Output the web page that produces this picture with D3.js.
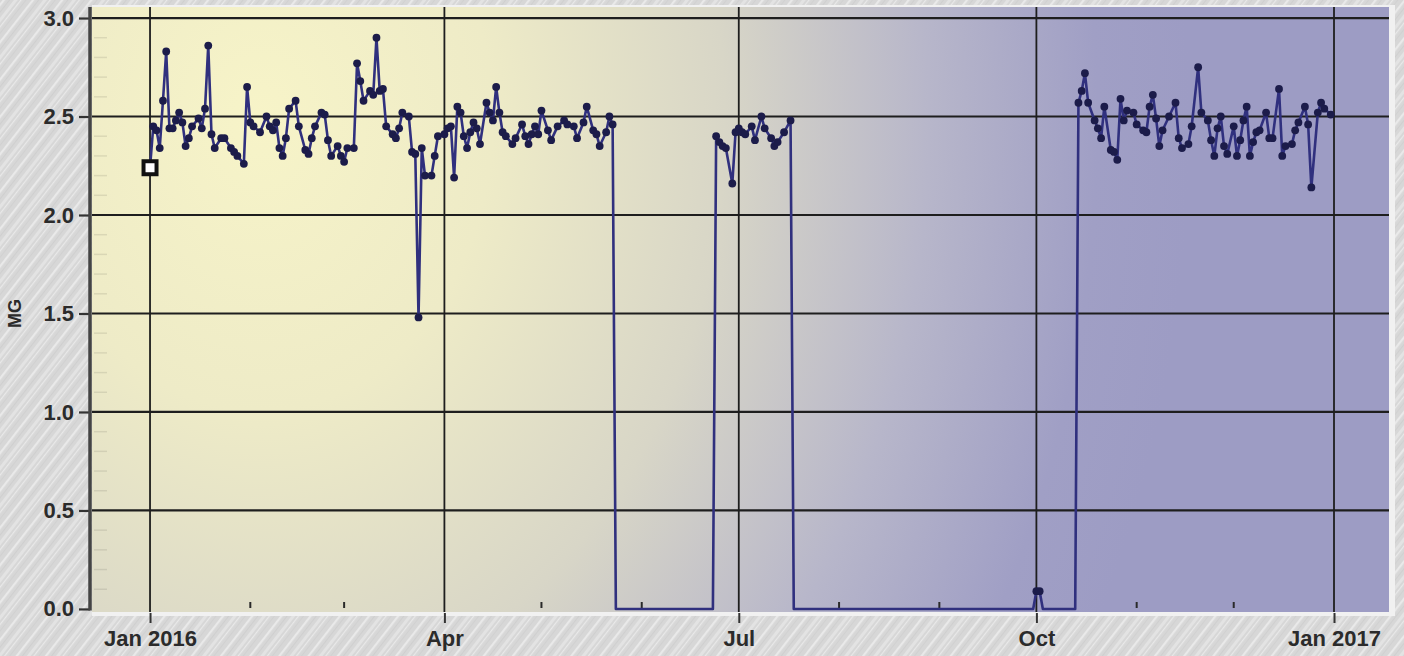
<!DOCTYPE html>
<html>
<head>
<meta charset="utf-8">
<script src="https://cdn.jsdelivr.net/npm/d3@7/dist/d3.min.js"></script>
<style>
  html, body { margin: 0; padding: 0; background: #d8d8d8; }
  svg { display: block; }
  text { font-family: "Liberation Sans", Arial, sans-serif; font-weight: bold; fill: #2b2b2b; }
</style>
</head>
<body>
<svg id="chart" width="1404" height="656"></svg>
<script>
// Daily MG readings, days counted from 1 Jan 2016. A value of 0 marks days with no reading.
const readingDay = [
  0, 1, 2, 3, 4, 5, 6, 7, 8, 9, 10, 11, 12, 13, 15, 16, 17, 18, 19, 20,
  22, 23, 25, 26, 27, 29, 30, 31, 32, 34, 36, 37, 38, 39, 40, 41, 42, 43, 45, 46,
  48, 49, 50, 51, 53, 54, 55, 56, 58, 59, 60, 61, 63, 64, 65, 66, 68, 69, 70, 71,
  72, 73, 75, 76, 77, 78, 80, 81, 82, 83, 84, 85, 87, 88, 89, 91, 92, 93, 94, 95,
  96, 97, 98, 99, 100, 101, 102, 104, 105, 106, 107, 108, 109, 110, 112, 113, 115, 116, 117, 118,
  119, 120, 121, 123, 124, 126, 128, 129, 131, 132, 134, 135, 137, 138, 139, 141, 142, 143,
  144, 174,
  175, 176, 177, 178, 180, 181, 182, 183, 184, 186, 187, 189, 190, 192, 193, 194, 196, 198,
  199, 273, 274, 275, 276, 286,
  287, 288, 289, 290, 292, 293, 294, 295, 297, 298, 299, 300, 301, 302, 304, 305, 307, 308, 309, 310,
  311, 312, 313, 315, 317, 318, 319, 321, 322, 324, 325, 327, 328, 329, 330, 331, 332, 333, 335, 336,
  337, 338, 339, 340, 341, 342, 343, 345, 346, 347, 349, 350, 351, 353, 354, 355, 357, 358, 359, 361,
  362, 363, 365
];
const readingValue = [
  2.24, 2.45, 2.43, 2.34, 2.58, 2.83, 2.44, 2.44, 2.48, 2.52, 2.47, 2.35, 2.39, 2.45, 2.49, 2.44, 2.54, 2.86, 2.41, 2.34,
  2.39, 2.39, 2.34, 2.32, 2.30, 2.26, 2.65, 2.47, 2.45, 2.42, 2.50, 2.45, 2.43, 2.47, 2.34, 2.30, 2.39, 2.54, 2.58, 2.45,
  2.33, 2.31, 2.39, 2.45, 2.52, 2.51, 2.38, 2.30, 2.35, 2.30, 2.27, 2.34, 2.34, 2.77, 2.68, 2.58, 2.63, 2.61, 2.90, 2.63,
  2.64, 2.45, 2.41, 2.39, 2.44, 2.52, 2.50, 2.32, 2.31, 1.48, 2.34, 2.20, 2.20, 2.30, 2.40, 2.41, 2.44, 2.45, 2.19, 2.55,
  2.52, 2.40, 2.34, 2.42, 2.47, 2.44, 2.36, 2.57, 2.52, 2.48, 2.65, 2.52, 2.42, 2.40, 2.36, 2.39, 2.46, 2.40, 2.36, 2.41,
  2.45, 2.41, 2.53, 2.43, 2.38, 2.45, 2.48, 2.46, 2.45, 2.39, 2.47, 2.55, 2.43, 2.41, 2.35, 2.42, 2.50, 2.46,
  0, 0,
  2.40, 2.37, 2.35, 2.34, 2.16, 2.42, 2.44, 2.42, 2.41, 2.45, 2.38, 2.50, 2.44, 2.39, 2.35, 2.37, 2.42, 2.48,
  0, 0, 0.09, 0.09, 0, 0,
  2.57, 2.63, 2.72, 2.57, 2.48, 2.44, 2.39, 2.55, 2.33, 2.32, 2.28, 2.59, 2.48, 2.53, 2.52, 2.46, 2.43, 2.42, 2.55, 2.61,
  2.49, 2.35, 2.43, 2.50, 2.57, 2.39, 2.34, 2.36, 2.45, 2.75, 2.52, 2.48, 2.38, 2.30, 2.44, 2.50, 2.35, 2.31, 2.45, 2.30,
  2.38, 2.48, 2.55, 2.30, 2.37, 2.42, 2.43, 2.52, 2.39, 2.39, 2.64, 2.30, 2.35, 2.36, 2.43, 2.47, 2.55, 2.46, 2.14, 2.52,
  2.57, 2.54, 2.51
];
const yTickValues = [0, 0.5, 1.0, 1.5, 2.0, 2.5, 3.0];
const yAxisTitle = "MG";
const seriesStart = Date.UTC(2016, 0, 1);
const dayMs = 86400000;

const svg = d3.select("#chart");
const W = 1404, H = 656;
const plot = { left: 92, right: 1389, top: 7, bottom: 612 };

const x = d3.scaleUtc()
  .domain([new Date(Date.UTC(2015, 11, 14)), new Date(Date.UTC(2017, 0, 18))])
  .range([91.8, 1389]);
const y = d3.scaleLinear().domain([-0.014, 3.056]).range([611.7, 7]);

const data = readingDay.map((d, i) => ({ date: new Date(seriesStart + d * dayMs), value: readingValue[i] }));

const defs = svg.append("defs");

// brushed grey backdrop
const pat = defs.append("pattern")
  .attr("id", "brushed").attr("patternUnits", "userSpaceOnUse")
  .attr("width", 23).attr("height", 23)
  .attr("patternTransform", "rotate(-52)");
pat.append("rect").attr("width", 23).attr("height", 23).attr("fill", "#d7d7d7");
[[2, 2.2, "#ececec", 0.9], [7, 1, "#c9c9c9", 0.6], [11, 3, "#e6e6e6", 0.8], [16, 1.2, "#f2f2f2", 0.7], [20, 1, "#cccccc", 0.5]]
  .forEach(([p, w, c, o]) => pat.append("rect").attr("x", 0).attr("y", p).attr("width", 23).attr("height", w)
    .attr("fill", c).attr("opacity", o));

// plot panel shading: warm cream on the left fading into lavender on the right
const grad = defs.append("radialGradient")
  .attr("id", "panel").attr("gradientUnits", "userSpaceOnUse")
  .attr("cx", 260).attr("cy", 120).attr("r", 930)
  .attr("gradientTransform", "translate(260,120) scale(1,1.25) translate(-260,-120)");
[[0, "#f7f4c8"], [0.25, "#eeebc7"], [0.5, "#d8d6c7"], [0.72, "#b7b6ca"], [0.9, "#a09fc5"], [1, "#9d9cc4"]]
  .forEach(([o, c]) => grad.append("stop").attr("offset", o).attr("stop-color", c));

svg.append("rect").attr("width", W).attr("height", H).attr("fill", "url(#brushed)");

// light bevel round the panel
svg.append("rect")
  .attr("x", plot.left).attr("y", plot.top - 2)
  .attr("width", plot.right - plot.left + 6).attr("height", plot.bottom - plot.top + 6)
  .attr("fill", "#f1f1f1");
svg.append("rect")
  .attr("x", plot.left).attr("y", plot.top)
  .attr("width", plot.right - plot.left).attr("height", plot.bottom - plot.top)
  .attr("fill", "url(#panel)");

// minor y ticks every 0.1 along the inside of the left axis
const minorY = d3.range(1, 31).map(i => i / 10).filter(v => Math.round(v * 10) % 5 !== 0);
svg.append("g").selectAll("line").data(minorY).join("line")
  .attr("x1", 94).attr("x2", 107)
  .attr("y1", d => y(d)).attr("y2", d => y(d))
  .attr("stroke", "#000").attr("stroke-opacity", 0.09).attr("stroke-width", 1.5);

// horizontal grid
svg.append("g").selectAll("line").data(yTickValues.filter(v => v > 0)).join("line")
  .attr("x1", plot.left).attr("x2", plot.right)
  .attr("y1", d => y(d)).attr("y2", d => y(d))
  .attr("stroke", "#1e1e1e").attr("stroke-width", 2.2);

// vertical grid at quarter starts
const quarterTicks = x.ticks(d3.utcMonth.every(3)).filter(d => d >= new Date(seriesStart));
svg.append("g").selectAll("line").data(quarterTicks).join("line")
  .attr("x1", d => x(d)).attr("x2", d => x(d))
  .attr("y1", plot.top).attr("y2", plot.bottom)
  .attr("stroke", "#1e1e1e").attr("stroke-width", 1.8);

// monthly minor ticks at the bottom of the panel
const monthTicks = x.ticks(d3.utcMonth.every(1)).filter(d => d.getUTCMonth() % 3 !== 0);
svg.append("g").selectAll("line").data(monthTicks).join("line")
  .attr("x1", d => x(d)).attr("x2", d => x(d))
  .attr("y1", plot.bottom - 10).attr("y2", plot.bottom - 4)
  .attr("stroke", "#2a2a2a").attr("stroke-width", 2);

// x axis: ticks hanging below the panel and labels
const fmtX = d => d.getUTCMonth() === 0 ? d3.utcFormat("%b %Y")(d) : d3.utcFormat("%b")(d);
const xAxis = d3.axisBottom(x).tickValues(quarterTicks).tickFormat(fmtX).tickSize(10).tickPadding(7);
const gx = svg.append("g").attr("transform", `translate(0,${plot.bottom + 1})`).call(xAxis);
gx.select(".domain").remove();
gx.selectAll(".tick line").attr("stroke", "#333").attr("stroke-width", 2);
gx.selectAll(".tick text").attr("font-size", 22).attr("fill", "#2b2b2b")
  .attr("font-family", '"Liberation Sans", Arial, sans-serif').attr("font-weight", "bold");

// y axis
const yAxis = d3.axisLeft(y).tickValues(yTickValues).tickFormat(d3.format(".1f")).tickSize(11).tickPadding(5);
const gy = svg.append("g").attr("transform", "translate(90,0)").call(yAxis);
gy.select(".domain").remove();
gy.selectAll(".tick line").attr("stroke", "#333").attr("stroke-width", 2.2);
gy.selectAll(".tick text").attr("font-size", 22).attr("fill", "#2b2b2b")
  .attr("font-family", '"Liberation Sans", Arial, sans-serif').attr("font-weight", "bold");
svg.append("line").attr("x1", 90).attr("x2", 90).attr("y1", plot.top).attr("y2", y(0) + 1.5)
  .attr("stroke", "#444").attr("stroke-width", 3.5);

svg.append("text")
  .attr("transform", `translate(21,${(y(0) + y(3)) / 2}) rotate(-90)`)
  .attr("text-anchor", "middle").attr("font-size", 18)
  .text(yAxisTitle);

// series line
const line = d3.line().x(d => x(d.date)).y(d => y(d.value));
svg.append("path").datum(data)
  .attr("d", line)
  .attr("fill", "none").attr("stroke", "#30307e").attr("stroke-width", 2.6)
  .attr("stroke-linejoin", "round");

// markers on actual readings
const readings = data.filter((d, i) => d.value > 0 && i > 0);
svg.append("g").selectAll("circle").data(readings).join("circle")
  .attr("cx", d => x(d.date)).attr("cy", d => y(d.value)).attr("r", 3.9)
  .attr("fill", "#1c1c4a");

// first reading highlighted with a square marker
const first = data[0];
svg.append("rect")
  .attr("x", x(first.date) - 6.5).attr("y", y(first.value) - 6.5)
  .attr("width", 13).attr("height", 13)
  .attr("fill", "#ffffff").attr("stroke", "#111").attr("stroke-width", 4);
</script>
</body>
</html>
